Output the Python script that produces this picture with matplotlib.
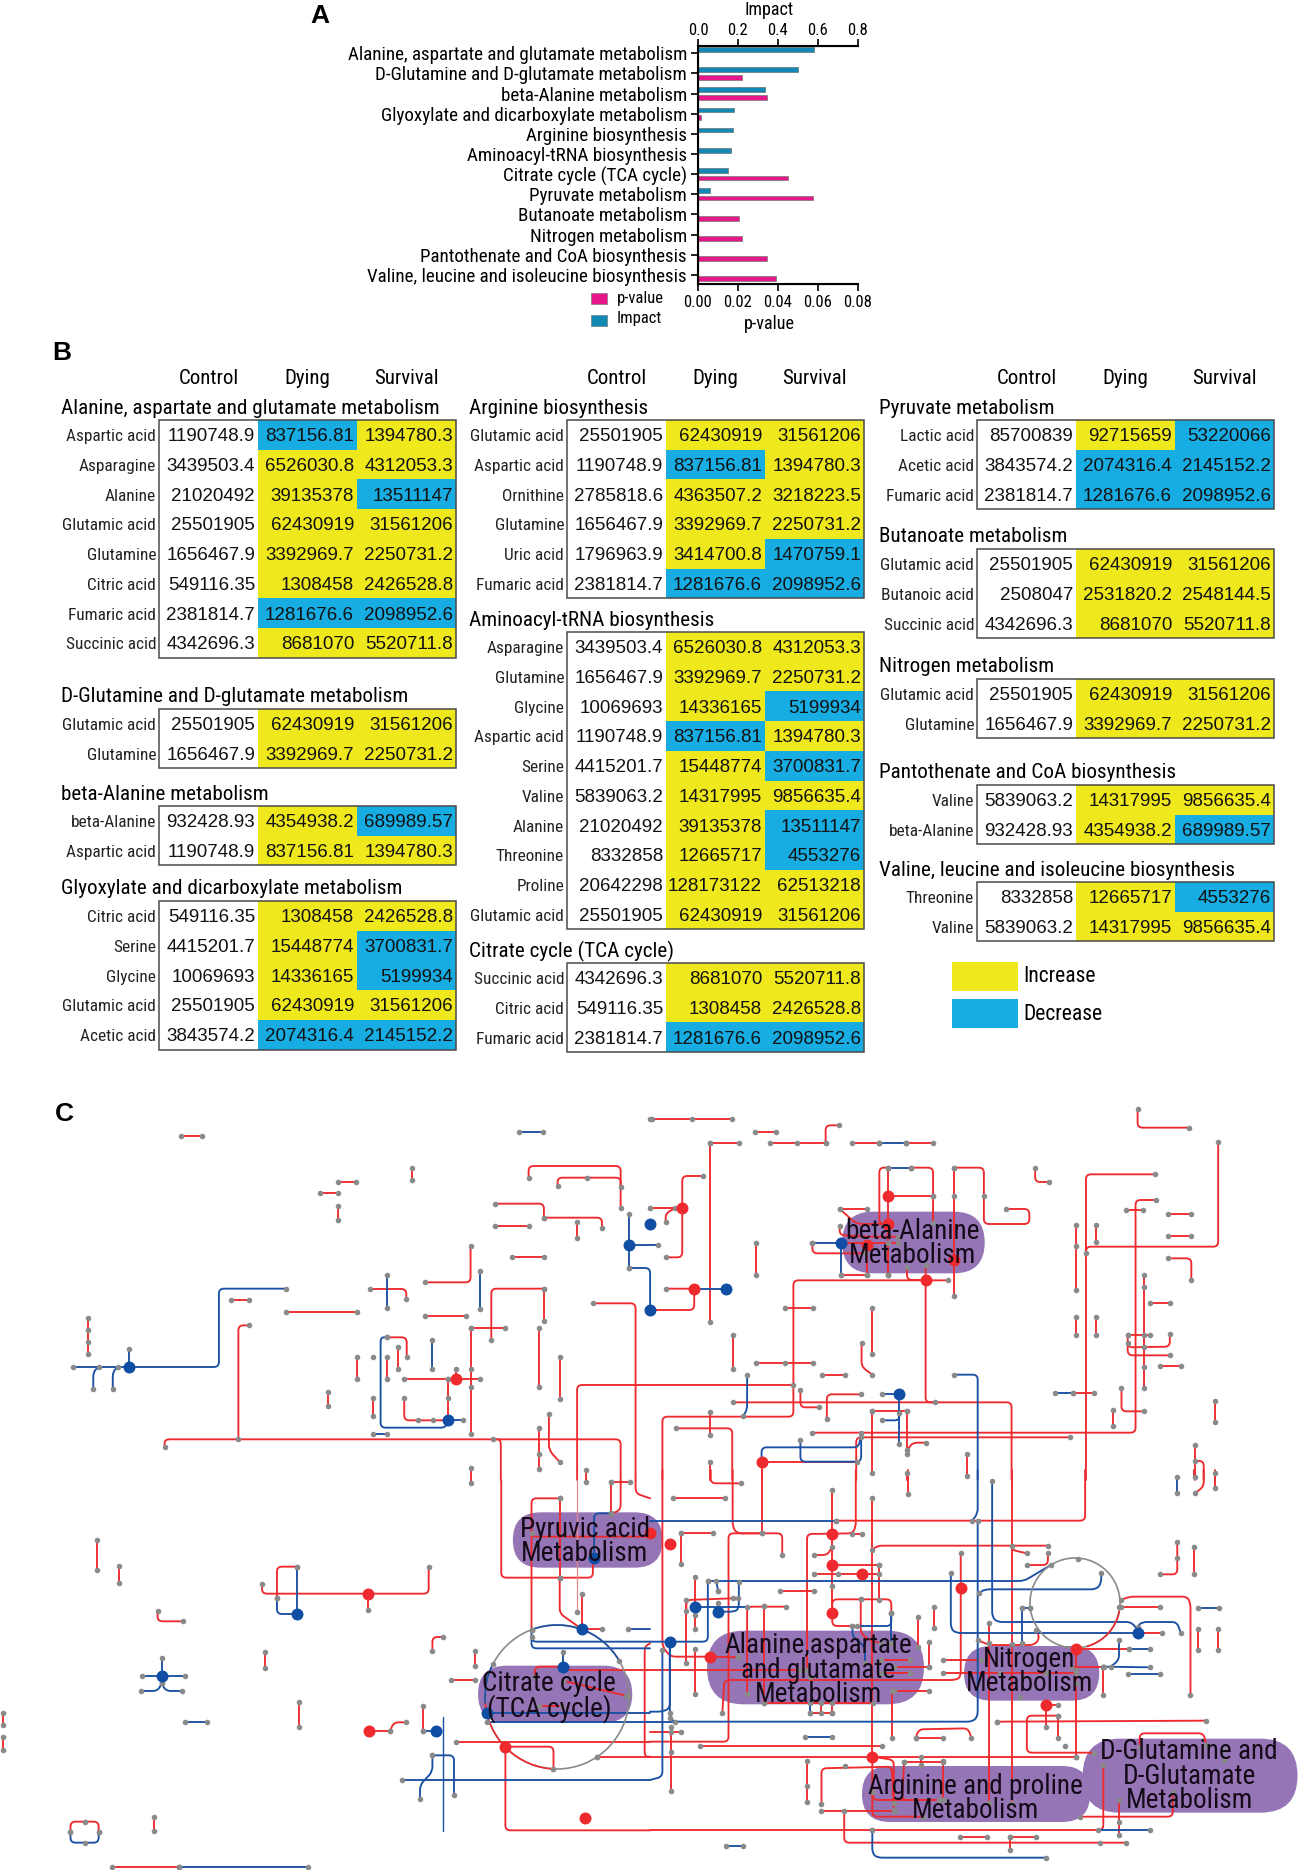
import matplotlib
matplotlib.use('Agg')
import matplotlib.pyplot as plt
from matplotlib.path import Path
from matplotlib.patches import PathPatch, Rectangle, FancyBboxPatch, Arc

W, H = 1298, 1870
plt.rcParams['font.family'] = ['Roboto Condensed', 'Liberation Sans', 'DejaVu Sans']

# ---- panel A
PATHWAYS = ['Alanine, aspartate and glutamate metabolism', 'D-Glutamine and D-glutamate metabolism',
            'beta-Alanine metabolism', 'Glyoxylate and dicarboxylate metabolism', 'Arginine biosynthesis',
            'Aminoacyl-tRNA biosynthesis', 'Citrate cycle (TCA cycle)', 'Pyruvate metabolism',
            'Butanoate metabolism', 'Nitrogen metabolism', 'Pantothenate and CoA biosynthesis',
            'Valine, leucine and isoleucine biosynthesis']
IMPACT = [0.58, 0.50, 0.335, 0.18, 0.175, 0.165, 0.15, 0.058, 0, 0, 0, 0]
PVALUE = [0, 0.022, 0.0345, 0.0015, 0, 0, 0.045, 0.0577, 0.0208, 0.0223, 0.0344, 0.0392]

# ---- panel B
COLUMNS = ['Control', 'Dying', 'Survival']
VALUES = {
    'Aspartic acid': ('1190748.9', '837156.81', '1394780.3'),
    'Asparagine': ('3439503.4', '6526030.8', '4312053.3'),
    'Alanine': ('21020492', '39135378', '13511147'),
    'Glutamic acid': ('25501905', '62430919', '31561206'),
    'Glutamine': ('1656467.9', '3392969.7', '2250731.2'),
    'Citric acid': ('549116.35', '1308458', '2426528.8'),
    'Fumaric acid': ('2381814.7', '1281676.6', '2098952.6'),
    'Succinic acid': ('4342696.3', '8681070', '5520711.8'),
    'beta-Alanine': ('932428.93', '4354938.2', '689989.57'),
    'Serine': ('4415201.7', '15448774', '3700831.7'),
    'Glycine': ('10069693', '14336165', '5199934'),
    'Acetic acid': ('3843574.2', '2074316.4', '2145152.2'),
    'Ornithine': ('2785818.6', '4363507.2', '3218223.5'),
    'Uric acid': ('1796963.9', '3414700.8', '1470759.1'),
    'Valine': ('5839063.2', '14317995', '9856635.4'),
    'Threonine': ('8332858', '12665717', '4553276'),
    'Proline': ('20642298', '128173122', '62513218'),
    'Lactic acid': ('85700839', '92715659', '53220066'),
    'Butanoic acid': ('2508047', '2531820.2', '2548144.5'),
}
# title, left edge, top edge, rows
TABLES = [
    ('Alanine, aspartate and glutamate metabolism', 159, 420,
     ['Aspartic acid', 'Asparagine', 'Alanine', 'Glutamic acid', 'Glutamine', 'Citric acid', 'Fumaric acid', 'Succinic acid']),
    ('D-Glutamine and D-glutamate metabolism', 159, 709, ['Glutamic acid', 'Glutamine']),
    ('beta-Alanine metabolism', 159, 806, ['beta-Alanine', 'Aspartic acid']),
    ('Glyoxylate and dicarboxylate metabolism', 159, 901, ['Citric acid', 'Serine', 'Glycine', 'Glutamic acid', 'Acetic acid']),
    ('Arginine biosynthesis', 567, 420, ['Glutamic acid', 'Aspartic acid', 'Ornithine', 'Glutamine', 'Uric acid', 'Fumaric acid']),
    ('Aminoacyl-tRNA biosynthesis', 567, 632,
     ['Asparagine', 'Glutamine', 'Glycine', 'Aspartic acid', 'Serine', 'Valine', 'Alanine', 'Threonine', 'Proline', 'Glutamic acid']),
    ('Citrate cycle (TCA cycle)', 567, 963, ['Succinic acid', 'Citric acid', 'Fumaric acid']),
    ('Pyruvate metabolism', 977, 420, ['Lactic acid', 'Acetic acid', 'Fumaric acid']),
    ('Butanoate metabolism', 977, 549, ['Glutamic acid', 'Butanoic acid', 'Succinic acid']),
    ('Nitrogen metabolism', 977, 679, ['Glutamic acid', 'Glutamine']),
    ('Pantothenate and CoA biosynthesis', 977, 785, ['Valine', 'beta-Alanine']),
    ('Valine, leucine and isoleucine biosynthesis', 977, 882, ['Threonine', 'Valine']),
]
# the one drop below control that the source still shades as an increase
YELLOW_EXCEPT = [('beta-Alanine metabolism', 'Aspartic acid')]

# ---- panel C, read per crop of the reference
Q1_RED = [
    [(436,167),(488,167)], [(815,305),(858,305)], [(771,340),(815,340)], [(994,263),(994,301)], [(815,377),(815,419)],
    [(1275,293),(1275,258),(1497,258),(1497,383)], [(1345,319),(1345,293),(1497,293),(1497,320)],
    [(1195,371),(1312,371),(1312,413)], [(1312,413),(1452,413),(1452,444)], [(1195,438),(1275,438)],
    [(1392,427),(1392,474)], [(1135,499),(1135,607),(1025,607)], [(1234,532),(1312,532)], [(557,661),(600,661)],
    [(690,697),(860,697)], [(893,627),(980,627),(980,657)], [(1025,709),(1125,709)],
    [(1312,626),(1185,626),(1185,781)], [(1312,626),(1312,723)], [(1135,744),(1217,744)], [(1135,744),(1135,1063)],
    [(1299,744),(1299,922)], [(1350,831),(1350,958)], [(1430,670),(1533,670),(1533,1200)],
    [(600,736),(575,736),(575,1078)], [(397,1102),(397,1078),(1497,1078),(1497,1200)],
    [(1190,1078),(1208,1078),(1208,1200)], [(933,772),(981,772),(981,832)], [(961,802),(961,866)],
    [(860,831),(860,898)], [(933,831),(933,898)], [(975,898),(1158,898)], [(1100,866),(1100,898)],
    [(1080,898),(1080,1020)], [(792,936),(792,978)], [(899,955),(899,1009)], [(975,955),(975,1021),(1080,1021)],
    [(1299,1044),(1299,1168)], [(1324,1002),(1324,1110),(1350,1146)], [(1135,1163),(1135,1200)],
    [(1392,1200),(1392,915),(1568,915)], [(1414,1169),(1414,1200)], [(213,715),(213,823)],
]
Q1_BLUE = [
    [(175,861),(528,861),(528,626),(690,626)], [(310,807),(310,861)], [(225,927),(225,875),(238,861)],
    [(272,927),(272,875),(285,861)], [(1252,156),(1310,156)], [(933,585),(933,685)], [(1157,573),(1157,688)],
    [(1042,781),(1042,866)], [(933,772),(918,772),(918,1043),(1075,1043),(1080,1021)], [(899,1062),(933,1062)],
    [(1080,1021),(1117,1021)], [(1518,402),(1518,564)], [(1518,494),(1568,494)], [(1518,564),(1568,564),(1568,690)],
]
Q1_DOTS = [(1417,293),(899,831),(1009,1021),(1044,1021),(1135,866),(1135,922),(1080,898),(1080,955),(1299,1123),
           (213,751),(213,787),(1568,117),(1568,383)]
Q1_BIG_RED = [(1100,898)]
Q1_BIG_BLUE = [(310,861),(1080,1021),(1518,494),(1568,432),(1568,690)]

Q2_RED = [
    [(5,116),(199,116)], [(255,156),(305,156)], [(457,136),(425,136),(425,190)], [(290,190),(425,190)],
    [(146,190),(215,190)], [(146,190),(146,727)], [(490,190),(555,190)], [(620,190),(685,190)],
    [(1180,87),(1180,143),(1305,143)], [(1375,185),(1375,500),(1055,500),(1055,1200)], [(1222,283),(1055,283),(1055,520)],
    [(932,263),(932,306),(965,306)], [(1224,360),(1175,360),(1175,1058),(393,1058)], [(1153,391),(1192,391)],
    [(1254,401),(1310,401)], [(1254,467),(1310,467)], [(1254,535),(1310,535),(1310,600)],
    [(577,263),(555,263),(555,432),(577,432)], [(577,263),(577,586)], [(632,263),(685,263),(685,430)], [(577,348),(685,348)],
    [(736,263),(808,263),(808,432),(918,432),(918,387),(862,387)], [(736,263),(736,647)],
    [(459,387),(525,387)], [(459,387),(500,432),(577,432)], [(459,438),(459,465),(520,470),(600,470)],
    [(393,490),(393,520),(520,520)], [(462,490),(600,490)], [(462,586),(525,586)], [(525,490),(525,586)], [(577,490),(577,586)],
    [(622,560),(622,600),(667,600)], [(722,601),(347,601),(347,1010),(30,1010),(30,1200)],
    [(667,555),(667,967),(690,967)], [(202,967),(875,967),(875,1200)], [(1030,434),(1030,630)], [(1079,436),(1079,486)],
    [(257,490),(257,586)], [(326,683),(395,683)], [(538,683),(538,821)], [(512,790),(512,860),(538,884)],
    [(202,766),(202,867)], [(257,848),(395,848)], [(417,884),(471,884)], [(0,915),(347,915)],
    [(1030,712),(1030,765)], [(1079,712),(1079,765)], [(1211,669),(1258,669)], [(1195,586),(1195,925)],
    [(1156,765),(1211,765)], [(1156,765),(1156,802),(1258,800),(1258,763)], [(1156,790),(1156,826),(1258,826)],
    [(1234,859),(1285,859)], [(1023,938),(1075,938)], [(1141,925),(1141,994),(1195,994)], [(1120,989),(1120,1037)],
    [(1367,964),(1367,1025)], [(511,943),(428,943),(428,1017)], [(364,930),(364,982),(408,982)],
    [(538,994),(623,994)], [(538,994),(538,1178)], [(623,994),(623,1123)], [(667,1088),(635,1088),(623,1110)],
    [(767,1123),(767,1187)], [(63,1045),(199,1045),(199,1200)], [(146,996),(146,1065)], [(146,1145),(146,1200)],
    [(1017,1072),(499,1072),(499,1200)], [(270,1145),(500,1145)], [(270,1145),(270,1200)], [(623,1178),(623,1200)],
    [(38,626),(107,626),(107,690),(0,690)], [(128,288),(78,288),(78,532),(38,532)], [(0,383),(78,383)],
    [(38,425),(38,400),(60,385)], [(1318,1095),(1318,1200)], [(1318,1143),(1340,1143),(1340,1200)], [(1367,1178),(1367,1200)],
]
Q2_BLUE = [
    [(555,190),(620,190)], [(577,263),(632,263)], [(393,490),(462,490)], [(462,490),(462,586)], [(107,626),(183,626)],
    [(981,938),(1023,938)], [(736,884),(793,884),(793,1200)], [(561,943),(603,943)], [(603,943),(603,1092)],
    [(561,1021),(603,1021),(603,1000)], [(235,884),(235,990),(225,1008)], [(270,1145),(270,1102),(505,1102),(511,1060)],
    [(364,1080),(364,1145),(511,1145),(511,1072)], [(0,494),(20,494)],
]
Q2_DOTS = [(101,116),(355,190),(555,190),(620,190),(632,263),(685,348),(736,348),(808,348),(1030,498),(326,848),
           (1195,621),(1195,765),(1195,802),(1195,862),(1276,1192),(1318,1192),(600,490),(525,490),(577,490),(577,586)]
Q2_BIG_RED = [(577,348),(577,432),(525,495),(735,540),(667,600),(270,1145),(78,383),(107,626)]
Q2_BIG_BLUE = [(462,490),(603,943),(183,626)]

Q3_RED = [
    [(235,210),(235,299)], [(286,287),(286,340)], [(380,424),(380,454),(441,454)], [(632,343),(632,371),(1034,371),(1034,290)],
    [(716,290),(668,290),(668,385)], [(887,371),(887,421)], [(639,545),(639,593)], [(722,697),(722,770)],
    [(1069,501),(1043,501),(1043,543)], [(1145,543),(1145,587)], [(1088,630),(1145,630)], [(890,782),(941,782)],
    [(941,782),(950,757),(980,757)], [(1020,708),(1020,782)], [(7,728),(7,765)], [(7,802),(7,840)], [(371,1041),(371,1083)],
    [(170,1086),(170,1055),(238,1055),(238,1086)], [(269,1190),(431,1190)], [(1100,816),(1568,816)],
    [(1219,830),(1219,1081),(1568,1081)], [(1219,830),(1335,830),(1335,897)], [(1135,30),(1135,40)],
    [(1209,30),(1209,323),(1430,323),(1430,270)], [(1350,85),(1282,85),(1282,480)], [(1350,85),(1350,323)],
    [(1350,323),(1350,430),(1403,477),(1452,477)], [(1403,372),(1403,477)], [(1414,30),(1414,35)],
    [(1474,35),(1520,35)], [(1474,35),(1474,130)], [(1497,30),(1497,120),(1474,132)], [(1533,30),(1533,70),(1568,85)],
    [(1282,190),(1282,200),(1568,200)], [(1290,620),(1290,590),(1357,590)], [(1357,600),(1568,600)],
    [(1357,632),(1510,677)], [(1300,708),(1355,708)], [(1568,520),(1555,530),(1555,860),(1568,860)], [(1440,860),(1568,860)],
]
Q3_THIN_RED = [[(1392,30),(1392,425)]]
Q3_BLUE = [
    [(1282,480),(1282,515),(1568,515)], [(1282,500),(1282,535),(1568,535)], [(1433,270),(1433,130),(1474,130)],
    [(1357,545),(1357,590)], [(1175,728),(1568,728)], [(1175,755),(1568,755)], [(1515,478),(1568,478)],
    [(1020,782),(1051,782)], [(1043,856),(1095,856),(1095,975)], [(1043,856),(1043,905),(1013,945),(1013,988)],
    [(969,930),(1568,930)], [(447,755),(500,755)], [(717,290),(717,432)], [(668,385),(668,432),(717,432)],
    [(342,617),(446,617)], [(390,565),(390,617)], [(341,663),(380,663),(390,640)], [(390,640),(400,663),(440,663)],
    [(170,1086),(170,1118),(238,1118),(238,1086)], [(431,1190),(743,1190)],
]
Q3_THIN_BLUE = [[(1069,741),(1069,1083)]]
Q3_DOTS = [(204,1055),(204,1118),(431,1190),(1190,582),(1492,573),(1515,678),(1440,860),(1335,897),(1282,480),(1350,323)]
Q3_BIG_RED = [(887,371),(890,782),(1219,830),(1410,1043)]
Q3_BIG_BLUE = [(717,432),(390,617),(1051,782),(1403,477),(1357,590),(1175,728),(1433,265)]

Q4_RED = [
    [(147,0),(147,40),(220,40)], [(200,0),(200,170),(210,190),(320,190),(320,255)], [(271,0),(271,190)],
    [(271,190),(190,190),(190,815),(0,815)], [(55,85),(182,85)], [(30,0),(30,530),(50,560),(145,560)],
    [(450,152),(1053,152),(1053,0)], [(75,188),(152,188)], [(75,188),(75,283)], [(441,60),(441,430)],
    [(498,0),(498,170),(490,190),(380,192),(380,600)], [(490,191),(512,191)], [(397,255),(430,255),(440,230)],
    [(441,285),(555,285)], [(397,311),(555,311)], [(555,285),(555,390)], [(441,430),(441,388),(584,388),(584,430)],
    [(441,430),(441,468),(500,468)], [(538,85),(538,860)], [(538,240),(550,227),(963,227)], [(876,227),(876,240),(913,250)],
    [(913,285),(963,285),(963,250)], [(752,248),(752,620),(740,630),(180,630),(175,730)], [(708,569),(800,569)], [(708,610),(1030,610)],
    [(330,410),(235,410),(235,672)], [(275,408),(275,700)], [(315,363),(397,363)], [(110,322),(110,478)], [(145,560),(212,562)],
    [(88,422),(88,390),(200,385)], [(88,390),(88,580)], [(110,538),(110,672)], [(648,442),(648,530)], [(687,410),(687,474)],
    [(675,516),(675,590)], [(560,570),(628,570)], [(590,590),(675,590)], [(560,610),(628,610)], [(590,662),(675,662)],
    [(585,662),(585,805)], [(275,698),(540,698)], [(510,388),(510,490),(530,510),(560,520)],
    [(0,600),(380,600)], [(0,787),(75,787)], [(50,770),(50,962)], [(120,829),(562,829)], [(643,805),(710,805)],
    [(643,805),(650,778),(770,775),(778,805)], [(386,730),(441,730)], [(414,700),(414,730)], [(441,700),(441,730)],
    [(379,873),(379,995)], [(0,860),(1032,860)], [(840,755),(1346,752)], [(958,705),(988,705)], [(958,705),(958,770)],
    [(988,737),(988,805)], [(988,737),(912,737),(912,848),(1075,848)], [(1032,540),(1032,860)], [(820,458),(820,1000)],
    [(876,0),(876,1000)], [(793,510),(820,525),(930,525),(943,505),(935,480)], [(1140,410),(1235,410)], [(1032,537),(1158,537)],
    [(1140,390),(1160,380),(1300,380),(1308,400),(1308,675)], [(1096,590),(1096,675)], [(1020,590),(1096,590)],
    [(1180,489),(1238,489)], [(1327,478),(1327,540)], [(1375,478),(1375,540)], [(1276,215),(1276,313),(1234,313)],
    [(1317,230),(1317,313)], [(1317,0),(1317,20)], [(1340,0),(1340,50),(1318,70)], [(1367,0),(1367,55)], [(624,0),(624,73)],
    [(1185,830),(1185,790),(1340,790),(1346,825)], [(1040,1040),(1265,1040),(1265,965)], [(1097,885),(1097,1080),(0,1080)],
    [(1135,990),(1135,1095)], [(415,1003),(415,895),(585,890),(590,1020)], [(415,1022),(592,1022)],
    [(470,1022),(470,1118),(1152,1118)], [(538,860),(538,1040),(660,1040)], [(538,860),(590,870),(590,1020)],
    [(710,872),(710,990)], [(615,875),(710,875)], [(615,875),(610,990),(710,990)], [(540,965),(540,990),(700,990)],
    [(655,862),(655,885)], [(750,1102),(815,1102)], [(872,1102),(935,1102)], [(872,1102),(872,1140)],
]
Q4_BLUE = [
    [(0,152),(450,152)], [(793,0),(793,130),(780,152)], [(793,152),(793,740),(780,755),(60,755),(48,745),(48,520)],
    [(538,1080),(538,1150),(550,1163),(958,1163)], [(828,32),(828,440),(840,456),(1165,456),(1180,480)],
    [(1180,470),(1190,456),(1275,456),(1285,490)], [(728,308),(728,475),(740,489),(1175,489)],
    [(795,370),(810,358),(1080,358),(1092,340),(1092,310)], [(140,333),(905,333),(970,285)], [(140,333),(140,515),(0,515)],
    [(160,333),(165,363)], [(215,335),(215,415),(205,425),(165,425)], [(110,410),(235,410)], [(48,730),(48,745)],
    [(48,520),(48,715),(30,725),(0,725)], [(30,540),(30,920),(0,930)], [(0,755),(60,755)], [(900,415),(920,415)],
    [(900,415),(900,520)], [(490,468),(490,500),(520,530),(520,580)], [(490,468),(584,468),(584,430)], [(584,430),(584,520)],
    [(1158,537),(1210,537)], [(1135,510),(1135,570),(1115,590)], [(1096,590),(1210,592)], [(1157,611),(1235,611)],
    [(1276,20),(1276,70)], [(1326,413),(1376,413)], [(375,802),(440,802)], [(1085,1080),(1210,1080)], [(185,1128),(225,1128)],
    [(386,700),(386,730)],
]
Q4_DOTS = [(455,311),(1276,265),(1090,1118),(441,348),(510,388),(275,408),(212,385),(165,363),(110,435),(165,400),
           (820,520),(876,522),(848,610),(958,610),(895,680),(1032,640),(1098,590),(1390,870),(1345,825),(1390,840),
           (1265,965),(1135,1055),(50,787),(50,845),(379,947),(538,1080),(473,888),(710,990),(590,1000),(1035,268),
           (920,415),(1135,410),(1032,600),(840,755),(1004,829),(360,600),(212,562),(386,620)]
Q4_BIG_RED = [(48,223),(0,190),(145,560),(441,191),(441,285),(512,311),(441,430),(752,355),(1032,537),(958,705),(538,860)]
Q4_BIG_BLUE = [(110,410),(165,425),(48,516),(1180,489)]

# label, crop, blob extent in the crop, text centre in the crop
BLOBS = [
    ('beta-Alanine\nMetabolism', 'q2', 465, 810, 395, 580, 636, 490),
    ('Pyruvic acid\nMetabolism', 'q3', 1237, 1598, 127, 293, 1410, 215),
    ('Citrate cycle\n(TCA cycle)', 'q3', 1153, 1525, 587, 758, 1325, 680),
    ('Alanine,aspartate\nand glutamate\nMetabolism', 'q4', 138, 663, 482, 703, 408, 600),
    ('Nitrogen\nMetabolism', 'q4', 760, 1087, 528, 692, 918, 605),
    ('Arginine and proline\nMetabolism', 'q4', 513, 1065, 888, 1056, 787, 985),
    ('D-Glutamine and\nD-Glutamate\nMetabolism', 'q4', 1047, 1567, 806, 1028, 1305, 918),
]
QUADS = {'q1': (0, 1080, 2.412), 'q2': (650, 1080, 2.42), 'q3': (0, 1470, 2.412), 'q4': (650, 1470, 2.42)}

RED = '#ee2a2e'
BLUE = '#1a50a3'
GRAY = '#8a8a8a'


def to_px(q, pt):
    ox, oy, sx = QUADS[q]
    return ox + pt[0] / sx, oy + pt[1] / 3.0


def rounded_path(pts, r=5.0):
    verts = [pts[0]]
    codes = [Path.MOVETO]
    for i in range(1, len(pts) - 1):
        p0, p1, p2 = pts[i - 1], pts[i], pts[i + 1]
        d0 = ((p1[0] - p0[0]) ** 2 + (p1[1] - p0[1]) ** 2) ** 0.5
        d1 = ((p2[0] - p1[0]) ** 2 + (p2[1] - p1[1]) ** 2) ** 0.5
        a = min(r, d0 / 2) / max(d0, 1e-6)
        b = min(r, d1 / 2) / max(d1, 1e-6)
        verts += [(p1[0] - (p1[0] - p0[0]) * a, p1[1] - (p1[1] - p0[1]) * a), p1,
                  (p1[0] + (p2[0] - p1[0]) * b, p1[1] + (p2[1] - p1[1]) * b)]
        codes += [Path.LINETO, Path.CURVE3, Path.CURVE3]
    verts.append(pts[-1])
    codes.append(Path.LINETO)
    return Path(verts, codes)


def on_seam(q, pt):
    x, y = pt
    if x <= 0 or x >= 1568:
        return True
    if q in ('q1', 'q2'):
        return y >= 1200
    return y <= 30


def draw_paths(ax, q, paths, color, lw=1.35, dots=True):
    for p in paths:
        px = [to_px(q, a) for a in p]
        ax.add_patch(PathPatch(rounded_path(px), fc='none', ec=color, lw=lw, zorder=3, capstyle='round'))
        if dots:
            for e in (p[0], p[-1]):
                if not on_seam(q, e) and e[1] > 0:
                    ax.plot(*to_px(q, e), 'o', color=GRAY, ms=4.0, mew=0, zorder=5)


fig = plt.figure(figsize=(W / 100, H / 100), dpi=100, facecolor='white')

# panel A
ax = fig.add_axes([698 / W, 1 - 284 / H, (857.5 - 698) / W, (284 - 46) / H])
ypos = list(range(len(PATHWAYS)))
ax.barh([y + 0.19 for y in ypos], PVALUE, height=0.23, color='#e6178b', edgecolor='#8a7a80', linewidth=0.6)
ax.set_xlim(0, 0.08)
ax.set_ylim(11.45, -0.36)
ax.set_yticks(ypos)
ax.set_yticklabels(PATHWAYS, fontsize=13.7)
ax.set_xticks([0, 0.02, 0.04, 0.06, 0.08])
ax.set_xticklabels(['0.00', '0.02', '0.04', '0.06', '0.08'], fontsize=12)
ax.spines['right'].set_visible(False)
ax.tick_params(axis='both', width=1.4, length=5, pad=3, color='#222222')
for s in ('left', 'bottom'):
    ax.spines[s].set_linewidth(1.5)
top = ax.twiny()
top.barh([y - 0.19 for y in ypos], IMPACT, height=0.23, color='#1288b2', edgecolor='#708088', linewidth=0.6)
top.set_xlim(0, 0.8)
top.set_xticks([0, 0.2, 0.4, 0.6, 0.8])
top.set_xticklabels(['0.0', '0.2', '0.4', '0.6', '0.8'], fontsize=12)
top.spines['right'].set_visible(False)
top.spines['top'].set_linewidth(1.5)
top.tick_params(axis='x', width=1.4, length=5, pad=1, color='#222222')

# everything else in reference pixels
page = fig.add_axes([0, 0, 1, 1], zorder=-1)
page.set_xlim(0, W)
page.set_ylim(H, 0)
page.axis('off')
over = fig.add_axes([0, 0, 1, 1], zorder=5)
over.set_xlim(0, W)
over.set_ylim(H, 0)
over.axis('off')
over.patch.set_alpha(0)

BOLD = ['Liberation Sans']
over.text(320, 16, 'A', fontsize=19, fontweight='bold', family=BOLD, ha='center', va='center')
over.text(62, 353, 'B', fontsize=19, fontweight='bold', family=BOLD, ha='center', va='center')
over.text(64, 1114, 'C', fontsize=19, fontweight='bold', family=BOLD, ha='center', va='center')
over.text(769, 10, 'Impact', fontsize=13, ha='center', va='center')
over.text(769, 324, 'p-value', fontsize=13, ha='center', va='center')

# legend of A
page.add_patch(Rectangle((591, 293), 16, 11, fc='#e6178b', ec='#8a7a80', lw=0.5))
page.add_patch(Rectangle((591, 315), 16, 11, fc='#1288b2', ec='#708088', lw=0.5))
page.text(617, 299, 'p-value', fontsize=12, va='center')
page.text(617, 319, 'Impact', fontsize=12, va='center')

# panel B
ROW_H = 29.7
COL_W = 99.0
NUM_FONT = ['Liberation Sans']
for left in (159, 567, 977):
    for j, name in enumerate(COLUMNS):
        page.text(left + COL_W * (j + 0.5), 378, name, fontsize=15, ha='center', va='center')
for title, left, ty, rows in TABLES:
    page.text(left - 98, ty - 12, title, fontsize=15.2, ha='left', va='center')
    for i, name in enumerate(rows):
        y = ty + ROW_H * i
        page.text(left - 3, y + ROW_H / 2 + 2, name, fontsize=12.4, ha='right', va='center', color='#222222')
        vals = VALUES[name]
        for j, v in enumerate(vals):
            if j > 0:
                low = float(v) < float(vals[0]) and (title, name) not in YELLOW_EXCEPT
                page.add_patch(Rectangle((left + COL_W * j, y), COL_W, ROW_H, fc='#17ace2' if low else '#efe81d', ec='none'))
            page.text(left + COL_W * (j + 1) - 3, y + ROW_H / 2 + 2, v, fontsize=13.5, family=NUM_FONT, ha='right', va='center', color='#111111')
    page.add_patch(Rectangle((left, ty), COL_W * 3, ROW_H * len(rows), fc='none', ec='#4a4a4a', lw=1.1, zorder=4))

page.add_patch(Rectangle((952, 962), 66, 29, fc='#efe81d', ec='none'))
page.add_patch(Rectangle((952, 999), 66, 29, fc='#17ace2', ec='none'))
page.text(1023, 977, 'Increase', fontsize=15.5, va='center')
page.text(1023, 1014, 'Decrease', fontsize=15.5, va='center')

# panel C
for label, q, x0, x1, y0, y1, tx, ty in BLOBS:
    a = to_px(q, (x0, y0))
    b = to_px(q, (x1, y1))
    w, h = b[0] - a[0], b[1] - a[1]
    rad = h / 2
    page.add_patch(FancyBboxPatch((a[0] + rad, a[1] + rad), w - 2 * rad, h - 2 * rad,
                                  boxstyle='round,pad=%f,rounding_size=%f' % (rad, rad),
                                  fc='#9575b6', ec='none', zorder=2))
    c = to_px(q, (tx, ty))
    over.text(c[0], c[1], label, fontsize=19.6, ha='center', va='center', linespacing=0.88, color='#140a18')

for q, r, b, d in (('q1', Q1_RED, Q1_BLUE, Q1_DOTS), ('q2', Q2_RED, Q2_BLUE, Q2_DOTS),
                   ('q3', Q3_RED, Q3_BLUE, Q3_DOTS), ('q4', Q4_RED, Q4_BLUE, Q4_DOTS)):
    draw_paths(page, q, r, RED)
    draw_paths(page, q, b, BLUE)
    for p in d:
        page.plot(*to_px(q, p), 'o', color=GRAY, ms=4.0, mew=0, zorder=5)
draw_paths(page, 'q3', Q3_THIN_RED, '#e58a8a', lw=0.9)
draw_paths(page, 'q3', Q3_THIN_BLUE, BLUE, lw=1.0, dots=False)

# the two cycle circles, angles
for (cx, cy, rr, parts) in ((557, 1697, 72, [(0, 360, GRAY), (92, 175, RED), (175, 208, BLUE), (250, 330, BLUE)]),
                            (1075, 1603, 45, [(0, 360, GRAY), (10, 75, RED)])):
    for t0, t1, col in parts:
        page.add_patch(Arc((cx, cy), 2 * rr, 2 * rr, theta1=t0, theta2=t1, ec=col, lw=1.2, zorder=3))

for q, big_r, big_b in (('q1', Q1_BIG_RED, Q1_BIG_BLUE), ('q2', Q2_BIG_RED, Q2_BIG_BLUE),
                        ('q3', Q3_BIG_RED, Q3_BIG_BLUE), ('q4', Q4_BIG_RED, Q4_BIG_BLUE)):
    for p in big_r:
        page.plot(*to_px(q, p), 'o', color=RED, ms=8.6, mew=0, zorder=6)
    for p in big_b:
        page.plot(*to_px(q, p), 'o', color='#0f4ea3', ms=8.6, mew=0, zorder=6)

fig.savefig('out.png', dpi=100)
